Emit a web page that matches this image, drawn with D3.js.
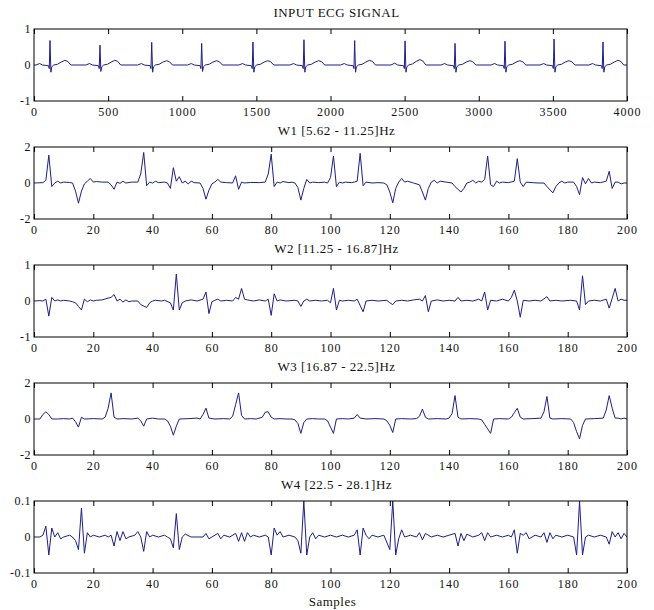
<!DOCTYPE html>
<html>
<head>
<meta charset="utf-8">
<script src="https://cdn.jsdelivr.net/npm/d3@7"></script>
<style>
  body { margin: 0; background: #fff; }
  text { font-family: "Liberation Serif", "DejaVu Serif", serif; fill: #111; }
</style>
</head>
<body>
<div id="cont"></div>
<script>
/* ECG wavelet decomposition - 5 stacked panels */

// Titles and axis settings
var titles = ["INPUT ECG SIGNAL", "W1 [5.62 - 11.25]Hz", "W2 [11.25 - 16.87]Hz",
              "W3 [16.87 - 22.5]Hz", "W4 [22.5 - 28.1]Hz"];
var xMax = [4000, 200, 200, 200, 200];
var xTicks = [[0, 500, 1000, 1500, 2000, 2500, 3000, 3500, 4000],
              [0, 20, 40, 60, 80, 100, 120, 140, 160, 180, 200],
              [0, 20, 40, 60, 80, 100, 120, 140, 160, 180, 200],
              [0, 20, 40, 60, 80, 100, 120, 140, 160, 180, 200],
              [0, 20, 40, 60, 80, 100, 120, 140, 160, 180, 200]];
var yLim = [1, 2, 1, 2, 0.1];
var yTickLabels = [["-1", "0", "1"], ["-2", "0", "2"], ["-1", "0", "1"],
                   ["-2", "0", "2"], ["-0.1", "0", "0.1"]];

// Input ECG signal, vertices [sample, value]
var ecg = [
  [0,0],[13,0],[38,0.04],[58,0],[98,-0.02],[103,-0.1],[108,0.68],[114,-0.2],[120,-0.05],[133,0],[158,0.02],[183,0.08],[208,0.13],[228,0.1],[248,0],
  [350,0],[375,0.04],[395,0],[435,-0.02],[440,-0.1],[445,0.55],[451,-0.18],[457,-0.05],[470,0],[495,0.02],[520,0.08],[545,0.13],[565,0.1],[585,0],
  [699,0],[724,0.04],[744,0],[784,-0.02],[789,-0.1],[794,0.63],[800,-0.2],[806,-0.05],[819,0],[844,0.02],[869,0.08],[894,0.12],[914,0.09],[934,0],
  [1036,0],[1061,0.04],[1081,0],[1121,-0.02],[1126,-0.1],[1131,0.6],[1137,-0.18],[1143,-0.05],[1156,0],[1181,0.02],[1206,0.08],[1231,0.12],[1251,0.09],[1271,0],
  [1382,0],[1407,0.04],[1427,0],[1467,-0.02],[1472,-0.1],[1477,0.64],[1483,-0.2],[1489,-0.05],[1502,0],[1527,0.02],[1552,0.08],[1577,0.12],[1597,0.09],[1617,0],
  [1726,0],[1751,0.04],[1771,0],[1811,-0.02],[1816,-0.1],[1821,0.7],[1827,-0.2],[1833,-0.05],[1846,0],[1871,0.02],[1896,0.08],[1921,0.12],[1941,0.09],[1961,0],
  [2068,0],[2093,0.04],[2113,0],[2153,-0.02],[2158,-0.1],[2163,0.68],[2169,-0.2],[2175,-0.05],[2188,0],[2213,0.02],[2238,0.08],[2263,0.13],[2283,0.1],[2303,0],
  [2408,0],[2433,0.05],[2453,0],[2493,-0.02],[2498,-0.1],[2503,0.67],[2509,-0.2],[2515,-0.05],[2528,0],[2553,0.03],[2578,0.1],[2603,0.15],[2623,0.11],[2643,0],
  [2745,0],[2770,0.04],[2790,0],[2830,-0.02],[2835,-0.1],[2840,0.6],[2846,-0.2],[2852,-0.05],[2865,0],[2890,0.02],[2915,0.08],[2940,0.12],[2960,0.09],[2980,0],
  [3082,0],[3107,0.04],[3127,0],[3167,-0.02],[3172,-0.1],[3177,0.66],[3183,-0.2],[3189,-0.05],[3202,0],[3227,0.02],[3252,0.08],[3277,0.12],[3297,0.09],[3317,0],
  [3413,0],[3438,0.04],[3458,0],[3498,-0.02],[3503,-0.1],[3508,0.72],[3514,-0.2],[3520,-0.05],[3533,0],[3558,0.02],[3583,0.08],[3608,0.12],[3628,0.09],[3648,0],
  [3743,0],[3768,0.04],[3788,0],[3828,-0.02],[3833,-0.1],[3838,0.64],[3844,-0.2],[3850,-0.05],[3863,0],[3888,0.02],[3913,0.08],[3938,0.13],[3958,0.1],[3978,0],[4000,0]
];

// W1 band
var w1 = [
  [0,0],[3,0.02],[4,0.15],[5,1.55],[6,-0.2],[7,0.0],[8,0.1],[9,0.0],[10,0.05],[12,0.03],[13,0.0],[14,-0.45],[15,-1.12],[16,-0.45],[17,-0.05],
  [18,0.1],[19,0.25],[20,0.05],[21,0.08],[23,0.05],[25,0.05],[26,-0.1],[27,-0.35],[28,0.05],[29,-0.02],[30,0.1],[31,0.0],[33,0.05],[35,0.05],
  [36,0.5],[37,1.7],[38,-0.15],[39,0.05],[40,0.0],[41,0.1],[42,0.02],[44,0.05],[45,0.0],[46,-0.3],[47,0.85],[48,0.1],[49,0.35],[50,0.0],
  [51,0.1],[52,-0.05],[53,0.1],[54,0.02],[56,0.0],[57,-0.3],[58,-0.9],[59,-0.4],[60,-0.05],[61,0.05],[62,0.2],[63,0.05],[65,0.02],[67,0.0],
  [68,0.4],[69,-0.35],[70,0.05],[71,0.0],[73,0.03],[76,0.02],[78,0.05],[79,0.5],[80,1.6],[81,-0.2],[82,0.05],[83,0.0],[84,0.08],[86,0.02],
  [87,0.05],[88,0.0],[89,-0.25],[90,-0.95],[91,-0.3],[92,0.2],[93,0.0],[94,0.05],[96,0.02],[98,0.05],[99,0.0],[100,0.3],[101,1.5],[102,-0.2],
  [103,0.05],[104,0.0],[105,0.05],[107,0.02],[108,0.05],[109,0.1],[110,1.65],[111,-0.15],[112,0.05],[114,0.0],[116,0.02],[118,0.0],[119,-0.1],
  [120,-0.5],[121,-1.1],[122,-0.3],[123,0.05],[124,0.25],[125,0.05],[126,0.1],[128,0.0],[130,-0.1],[131,-0.5],[132,-0.95],[133,-0.3],[134,0.05],
  [135,0.15],[136,0.0],[137,0.1],[139,0.05],[141,0.0],[142,-0.2],[144,-0.5],[145,-0.3],[146,0.0],[147,0.05],[148,0.15],[149,0.0],[150,0.1],
  [151,0.05],[152,0.2],[153,1.5],[154,-0.1],[155,-0.2],[156,0.1],[157,0.0],[158,0.05],[160,0.02],[162,0.1],[163,1.35],[164,0.05],[165,-0.2],
  [166,0.05],[168,0.02],[170,0.0],[172,0.0],[173,-0.2],[175,-0.55],[176,-0.2],[177,0.0],[178,0.1],[179,0.0],[180,0.05],[182,0.05],[183,-0.2],
  [184,-0.65],[185,0.3],[186,-0.05],[187,0.25],[188,0.0],[189,0.05],[191,0.02],[193,0.1],[194,0.65],[195,-0.3],[196,0.05],[197,0.05],
  [198,-0.05],[199,0.0],[200,0.0]
];

// W2 band
var w2 = [
  [0,0],[2,0.01],[3,0.0],[4,0.05],[5,-0.42],[6,0.1],[7,0.0],[8,0.03],[9,0.0],[10,0.02],[12,0.0],[13,-0.02],[14,-0.05],[15,-0.15],[16,-0.25],
  [17,0.05],[18,-0.02],[19,0.03],[20,0.0],[21,0.02],[23,0.03],[25,0.08],[26,0.1],[27,0.18],[28,0.0],[29,0.05],[30,-0.03],[31,0.03],[32,-0.02],
  [33,0.0],[35,0.0],[36,-0.1],[38,-0.18],[39,-0.05],[40,0.0],[41,0.02],[43,0.0],[44,0.02],[46,-0.05],[47,-0.25],[48,0.75],[49,-0.25],[50,-0.05],
  [51,0.0],[53,0.03],[55,0.0],[57,0.05],[58,0.25],[59,-0.35],[60,-0.02],[61,0.02],[62,0.05],[63,0.0],[65,0.02],[67,0.0],[68,0.1],[69,0.05],
  [70,0.35],[71,0.05],[72,0.03],[74,0.0],[76,0.03],[78,0.0],[79,0.05],[80,-0.4],[81,0.2],[82,0.0],[83,0.03],[85,0.0],[88,0.02],[89,0.0],
  [90,-0.15],[91,0.0],[92,0.05],[93,0.0],[95,0.02],[97,0.0],[99,0.02],[100,-0.05],[101,0.35],[102,-0.25],[103,0.02],[104,0.0],[106,0.02],
  [108,0.0],[109,0.05],[111,-0.3],[112,0.0],[114,0.02],[116,0.0],[119,0.02],[120,-0.05],[121,-0.1],[122,0.0],[124,0.02],[126,0.0],[128,0.03],
  [130,0.05],[131,0.0],[132,0.15],[133,-0.3],[134,0.0],[136,0.03],[138,0.0],[140,0.02],[142,0.0],[143,0.1],[144,0.0],[146,0.02],[148,0.0],
  [150,0.05],[151,0.0],[152,0.25],[153,-0.25],[154,0.02],[156,0.0],[158,0.05],[160,0.0],[161,0.1],[162,0.3],[163,0.0],[164,-0.45],[165,0.02],
  [167,0.0],[169,0.02],[171,0.0],[173,0.12],[174,0.0],[176,0.02],[178,0.0],[181,0.02],[183,0.0],[184,-0.25],[185,0.7],[186,-0.1],[187,0.0],
  [189,0.02],[191,0.0],[193,0.05],[194,-0.2],[196,0.35],[197,0.0],[198,0.05],[199,0.02],[200,0.02]
];

// W3 band
var w3 = [
  [0,0],[2,0.0],[3,0.25],[4,0.4],[5,0.25],[6,0.0],[8,0.0],[10,0.02],[12,0.0],[13,0.05],[14,-0.15],[15,-0.45],[16,0.1],[17,0.0],[20,0.02],
  [23,0.0],[24,0.1],[25,0.6],[26,1.45],[27,0.1],[28,0.0],[30,0.02],[33,0.0],[35,0.05],[36,-0.1],[37,-0.4],[38,0.0],[40,0.05],[42,0.0],
  [44,0.0],[45,-0.1],[46,-0.4],[47,-0.9],[48,-0.4],[49,0.0],[52,0.02],[55,0.05],[56,0.0],[57,0.25],[58,0.6],[59,0.05],[61,0.0],[64,0.02],
  [66,0.0],[67,0.15],[68,0.8],[69,1.45],[70,0.2],[71,0.0],[73,0.02],[75,0.0],[77,0.1],[78,0.38],[79,0.4],[80,0.1],[81,0.0],[83,0.02],
  [85,0.0],[87,0.0],[88,-0.05],[89,-0.25],[90,-0.8],[91,-0.2],[92,0.0],[94,0.02],[96,0.0],[98,0.0],[99,-0.1],[100,-0.45],[101,-0.8],[102,0.0],
  [104,0.02],[106,0.0],[108,0.05],[109,0.25],[110,0.05],[112,0.0],[115,0.02],[118,0.0],[119,-0.1],[120,-0.35],[121,-0.75],[122,0.0],[124,0.02],
  [127,0.0],[129,0.02],[130,0.15],[131,0.55],[132,0.1],[133,0.0],[136,0.02],[139,0.0],[140,0.05],[141,0.3],[142,1.3],[143,0.1],[144,0.0],
  [147,0.02],[150,0.0],[151,-0.05],[152,-0.3],[153,-0.55],[154,-0.8],[155,0.0],[157,0.02],[160,0.0],[161,0.1],[162,0.35],[163,0.6],[164,0.1],
  [165,0.0],[168,0.02],[171,0.05],[172,0.4],[173,1.25],[174,0.05],[175,0.0],[178,0.02],[181,0.0],[182,-0.2],[183,-0.7],[184,-1.1],[185,-0.35],
  [186,0.0],[189,0.02],[192,0.05],[193,0.5],[194,1.3],[195,0.6],[196,0.05],[197,0.05],[198,0.0],[199,0.05],[200,0.0]
];

// W4 band
var w4 = [
  [0,0],[2,0.0],[3,0.005],[4,0.03],[5,-0.05],[6,0.025],[7,0.0],[8,0.012],[9,-0.005],[10,0.0],[12,0.005],[13,0.0],[14,-0.01],[15,-0.035],
  [16,0.08],[17,-0.045],[18,0.012],[19,0.0],[20,0.005],[22,0.0],[24,0.005],[25,0.0],[26,0.005],[27,-0.025],[28,0.015],[29,-0.01],[30,0.015],
  [31,-0.005],[32,0.0],[34,0.005],[35,0.015],[36,0.0],[37,-0.04],[38,0.015],[39,0.0],[40,0.005],[42,0.0],[44,0.005],[45,0.0],[46,-0.005],
  [47,-0.03],[48,0.065],[49,-0.035],[50,0.0],[51,0.008],[53,0.0],[55,0.0],[57,0.0],[58,0.01],[59,-0.005],[60,0.0],[62,0.01],[63,-0.005],
  [64,0.005],[66,0.0],[68,0.01],[69,-0.012],[70,0.012],[71,-0.012],[72,0.012],[73,0.0],[74,0.005],[76,0.0],[78,0.005],[79,0.0],[80,-0.05],
  [81,0.025],[82,0.005],[83,0.015],[84,0.0],[86,0.005],[88,0.0],[89,-0.01],[90,-0.045],[91,0.1],[92,-0.05],[93,0.0],[94,0.012],[95,-0.005],
  [96,0.005],[98,0.0],[100,0.005],[102,0.0],[104,0.005],[106,0.0],[108,0.005],[109,0.02],[110,-0.05],[111,0.025],[112,0.005],[113,-0.005],
  [114,0.005],[116,0.0],[118,0.005],[120,-0.035],[121,0.1],[122,-0.05],[123,-0.005],[124,0.02],[125,0.0],[127,0.005],[129,0.0],[130,0.012],
  [131,-0.008],[132,0.01],[134,0.0],[136,0.005],[138,0.0],[140,0.005],[142,0.01],[143,-0.025],[144,0.01],[145,-0.01],[146,0.008],[148,0.0],
  [150,0.005],[151,0.012],[152,-0.01],[153,0.012],[154,0.0],[156,0.005],[158,0.0],[160,0.005],[161,0.0],[162,0.02],[163,-0.045],[164,0.01],
  [165,0.005],[166,0.012],[167,-0.005],[169,0.005],[171,0.0],[172,0.012],[173,-0.015],[174,0.012],[175,-0.005],[176,0.005],[178,0.0],
  [180,0.005],[182,0.0],[183,-0.05],[184,0.1],[185,-0.05],[186,0.0],[187,0.005],[189,0.0],[191,0.005],[193,0.0],[194,-0.02],[195,0.015],
  [196,0.0],[197,0.012],[198,-0.005],[199,0.01],[200,0.0]
];

var series = [ecg, w1, w2, w3, w4];

// Layout
var W = 654, H = 610;
var left = 34, right = 627;
var top0 = 29, panelH = 72, step = 118;
var lineColor = "#1e1e86";

var svg = d3.select("#cont").append("svg")
    .attr("width", W)
    .attr("height", H);

svg.append("rect").attr("width", W).attr("height", H).attr("fill", "#fff");

series.forEach(function(data, i) {
    var top = top0 + i * step;
    var bottom = top + panelH;

    var x = d3.scaleLinear().domain([0, xMax[i]]).range([left, right]);
    var y = d3.scaleLinear().domain([-yLim[i], yLim[i]]).range([bottom, top]);

    var g = svg.append("g").attr("class", "panel");

    // signal
    var line = d3.line()
        .x(function(d) { return x(d[0]); })
        .y(function(d) { return y(d[1]); });

    g.append("path")
        .datum(data)
        .attr("d", line)
        .attr("fill", "none")
        .attr("stroke", lineColor)
        .attr("stroke-width", 1);

    // bottom axis - matlab style inward ticks
    var xb = g.append("g")
        .attr("transform", "translate(0," + bottom + ")")
        .call(d3.axisBottom(x).tickValues(xTicks[i]).tickFormat(d3.format("d"))
              .tickSize(-5).tickPadding(6));
    var xt = g.append("g")
        .attr("transform", "translate(0," + top + ")")
        .call(d3.axisTop(x).tickValues(xTicks[i]).tickSize(-5).tickFormat(""));
    [xb, xt].forEach(function(a) {
        a.select(".domain").remove();
        a.selectAll("line").attr("stroke", "#000");
    });
    xb.selectAll("text")
        .attr("font-size", 12)
        .attr("letter-spacing", 1)
        .attr("font-family", "Liberation Serif")
        .attr("fill", "#222");

    // y tick labels
    var yv = [-yLim[i], 0, yLim[i]];
    g.selectAll(".ylab").data(yv).enter().append("text")
        .attr("class", "ylab")
        .attr("x", left - 3)
        .attr("y", function(d) { return y(d); })
        .attr("dy", "0.35em")
        .attr("text-anchor", "end")
        .attr("font-size", 12)
        .attr("letter-spacing", 0.5)
        .text(function(d, k) { return yTickLabels[i][k]; });

    // box
    g.append("rect")
        .attr("x", left).attr("y", top)
        .attr("width", right - left).attr("height", panelH)
        .attr("fill", "none")
        .attr("stroke", "#000")
        .attr("stroke-width", 1);

    // title
    g.append("text")
        .attr("x", (left + right) / 2 + 6)
        .attr("y", top - 12)
        .attr("text-anchor", "middle")
        .attr("font-size", 13)
        .attr("letter-spacing", 0.5)
        .text(titles[i]);
});

svg.append("text")
    .attr("x", (left + right) / 2 + 2)
    .attr("y", 606)
    .attr("text-anchor", "middle")
    .attr("font-size", 13)
    .attr("letter-spacing", 0.5)
    .text("Samples");
</script>
</body>
</html>
